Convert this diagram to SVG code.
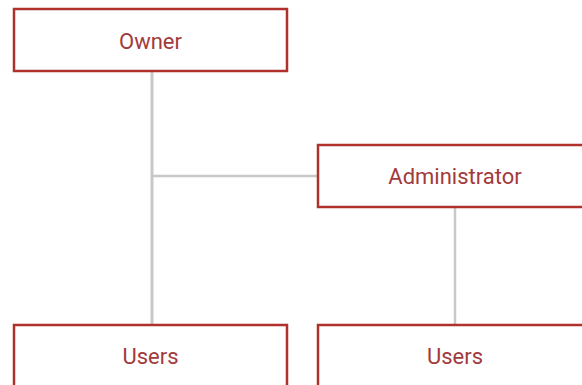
<svg xmlns="http://www.w3.org/2000/svg" width="582" height="385" viewBox="0 0 582 385">
<style>
.box{fill:#ffffff;stroke:#b0302c;stroke-width:2.5}
.lbl{font-family:Roboto,"Liberation Sans",sans-serif;font-size:22px;font-weight:400;fill:#a23a3c;text-anchor:middle;dominant-baseline:central}
.con{stroke:#c8c8c8;fill:none}
</style>
<rect width="582" height="385" fill="#ffffff"/>
<g id="connectors">
<line class="con" x1="152" y1="71" x2="152" y2="325" stroke-width="3"/>
<line class="con" x1="152" y1="176" x2="318" y2="176" stroke-width="2.5"/>
<line class="con" x1="455" y1="207" x2="455" y2="325" stroke-width="2.5"/>
</g>
<g id="owner">
<rect class="box" x="14" y="9" width="273" height="62"/>
<text class="lbl" x="150.5" y="41">Owner</text>
</g>
<g id="administrator">
<rect class="box" x="318" y="145" width="273" height="62"/>
<text class="lbl" x="455" y="176">Administrator</text>
</g>
<g id="users-left">
<rect class="box" x="14" y="325" width="273" height="62"/>
<text class="lbl" x="150.5" y="356">Users</text>
</g>
<g id="users-right">
<rect class="box" x="318" y="325" width="273" height="62"/>
<text class="lbl" x="455" y="356">Users</text>
</g>
</svg>
